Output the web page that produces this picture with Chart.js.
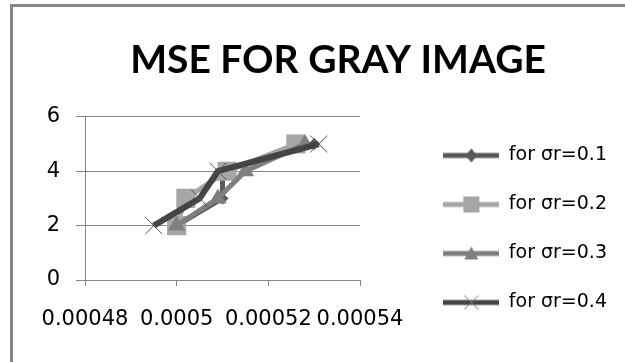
<!DOCTYPE html>
<html>
<head>
<meta charset="utf-8">
<script src="https://cdn.jsdelivr.net/npm/chart.js@4.4.1/dist/chart.umd.min.js"></script>
<style>
  html, body { margin: 0; padding: 0; background: #fff; overflow: hidden; }
  #wrap { position: relative; width: 625px; height: 362px; }
  #chart { display: block; }
  #frame { position: absolute; left: 10px; top: 4px; width: 700px; height: 500px; border: 3px solid #868686; pointer-events: none; }
</style>
</head>
<body>
<div id="wrap">
  <canvas id="chart" width="625" height="362"></canvas>
  <div id="frame"></div>
</div>
<script>
// MSE の値（縦軸）
var mseValues = [2, 3, 4, 5];
// 各 σr の横軸の値
var xSigma01 = [0.0005, 0.00051, 0.00051, 0.00053];
var xSigma02 = [0.0005, 0.000502, 0.000511, 0.000526];
var xSigma03 = [0.0005, 0.000509, 0.000515, 0.000528];
var xSigma04 = [0.000495, 0.000505, 0.000509, 0.000531];
var seriesLabels = ['for σr=0.1', 'for σr=0.2', 'for σr=0.3', 'for σr=0.4'];

// 目盛り
var xTicks = [0.00048, 0.0005, 0.00052, 0.00054];
var xTickLabels = ['0.00048', '0.0005', '0.00052', '0.00054'];
var yTicks = [0, 2, 4, 6];

var colors = ['#595959', '#a6a6a6', '#7f7f7f', '#444444'];
var gridColor = '#868686';

// 余白・描画領域の右端
var padLeft = 20;
var padRight = 8;
var plotLeft = 85;
var plotRight = 360;

function toPoints(xs) {
    return xs.map(function (x, i) { return { x: x, y: mseValues[i] }; });
}

// 凡例用のアイコン（線＋マーカー）
function makeIcon(color, marker) {
    var c = document.createElement('canvas');
    c.width = 56;
    c.height = 20;
    var g = c.getContext('2d');
    g.strokeStyle = color;
    g.lineWidth = 5;
    g.beginPath();
    g.moveTo(0, 10);
    g.lineTo(56, 10);
    g.stroke();
    g.fillStyle = color;
    if (marker === 'diamond') {
        g.beginPath();
        g.moveTo(28, 3); g.lineTo(34, 10); g.lineTo(28, 17); g.lineTo(22, 10);
        g.closePath();
        g.fill();
    } else if (marker === 'square') {
        g.fillRect(20, 2, 16, 16);
    } else if (marker === 'triangle') {
        g.beginPath();
        g.moveTo(28, 3); g.lineTo(35, 16); g.lineTo(21, 16);
        g.closePath();
        g.fill();
    } else if (marker === 'cross') {
        g.strokeStyle = '#777';
        g.lineWidth = 1;
        g.beginPath();
        g.moveTo(21, 3); g.lineTo(35, 17);
        g.moveTo(35, 3); g.lineTo(21, 17);
        g.stroke();
    }
    return c;
}

var icons = [
    makeIcon(colors[0], 'diamond'),
    makeIcon(colors[1], 'square'),
    makeIcon(colors[2], 'triangle'),
    makeIcon(colors[3], 'cross')
];

// タイトルを少し右へ寄せる
var titleShift = {
    id: 'titleShift',
    afterLayout: function (chart) {
        chart.titleBlock.left += 39;
    }
};

var tickFont = { family: 'DejaVu Sans', size: 21 };

var ctx = document.getElementById('chart').getContext('2d');
const chart = new Chart(ctx, {
    type: 'scatter',
    plugins: [titleShift],
    data: {
        datasets: [{
            label: seriesLabels[0],
            data: toPoints(xSigma01),
            showLine: true,
            borderColor: colors[0],
            borderWidth: 5,
            pointStyle: 'rectRot',
            pointRadius: 6,
            pointBackgroundColor: colors[0],
            pointBorderWidth: 0,
            order: 3
        }, {
            label: seriesLabels[1],
            data: toPoints(xSigma02),
            showLine: true,
            borderColor: colors[1],
            borderWidth: 5,
            pointStyle: 'rect',
            pointRadius: 13.5,
            pointBackgroundColor: colors[1],
            pointBorderWidth: 0,
            order: 2
        }, {
            label: seriesLabels[2],
            data: toPoints(xSigma03),
            showLine: true,
            borderColor: colors[2],
            borderWidth: 5,
            pointStyle: 'triangle',
            pointRadius: 10,
            pointBackgroundColor: colors[2],
            pointBorderWidth: 0,
            order: 1
        }, {
            label: seriesLabels[3],
            data: toPoints(xSigma04),
            showLine: true,
            borderColor: colors[3],
            borderWidth: 6,
            pointStyle: 'crossRot',
            pointRadius: 12,
            pointBorderColor: '#555',
            pointBorderWidth: 1,
            order: 0
        }]
    },
    options: {
        responsive: false,
        animation: false,
        events: [],
        layout: { padding: { left: padLeft, right: padRight, top: 0, bottom: 20 } },
        plugins: {
            title: {
                display: true,
                text: 'MSE FOR GRAY IMAGE',
                color: '#000',
                font: { family: 'Lato', size: 39, weight: 'bold', lineHeight: 1.2 },
                padding: { top: 37, bottom: 33 }
            },
            legend: {
                position: 'right',
                align: 'end',
                maxWidth: 300,
                labels: {
                    usePointStyle: true,
                    pointStyleWidth: 56,
                    padding: 30,
                    color: '#000',
                    font: { family: 'DejaVu Sans', size: 19 },
                    generateLabels: function (chart) {
                        return chart.data.datasets.map(function (ds, i) {
                            return {
                                text: ds.label,
                                pointStyle: icons[i],
                                datasetIndex: i,
                                fontColor: '#000',
                                lineWidth: 0,
                                hidden: false
                            };
                        });
                    }
                }
            },
            tooltip: { enabled: false }
        },
        scales: {
            x: {
                type: 'linear',
                min: xTicks[0],
                max: xTicks[xTicks.length - 1],
                afterBuildTicks: function (s) { s.ticks = xTicks.map(function (v) { return { value: v }; }); },
                afterFit: function (s) { s.height = 62; },
                grid: { drawOnChartArea: false, color: gridColor, tickLength: 6 },
                border: { color: gridColor },
                ticks: {
                    autoSkip: false,
                    maxRotation: 0,
                    padding: 21,
                    color: '#000',
                    font: tickFont,
                    callback: function (v, i) { return xTickLabels[i]; }
                }
            },
            y: {
                min: yTicks[0],
                max: yTicks[yTicks.length - 1],
                afterBuildTicks: function (s) { s.ticks = yTicks.map(function (v) { return { value: v }; }); },
                afterFit: function (s) { s.width = plotLeft - padLeft; },
                grid: { color: gridColor, tickLength: 9 },
                border: { color: gridColor },
                ticks: { padding: 16, color: '#000', font: tickFont }
            },
            // 描画領域と凡例の間のすき間
            gap: {
                type: 'linear',
                position: 'right',
                grid: { display: false },
                border: { display: false },
                ticks: { display: false },
                afterFit: function (s) {
                    s.width = 625 - padRight - s.chart.legend.width - plotRight;
                }
            }
        }
    }
});
</script>
</body>
</html>
